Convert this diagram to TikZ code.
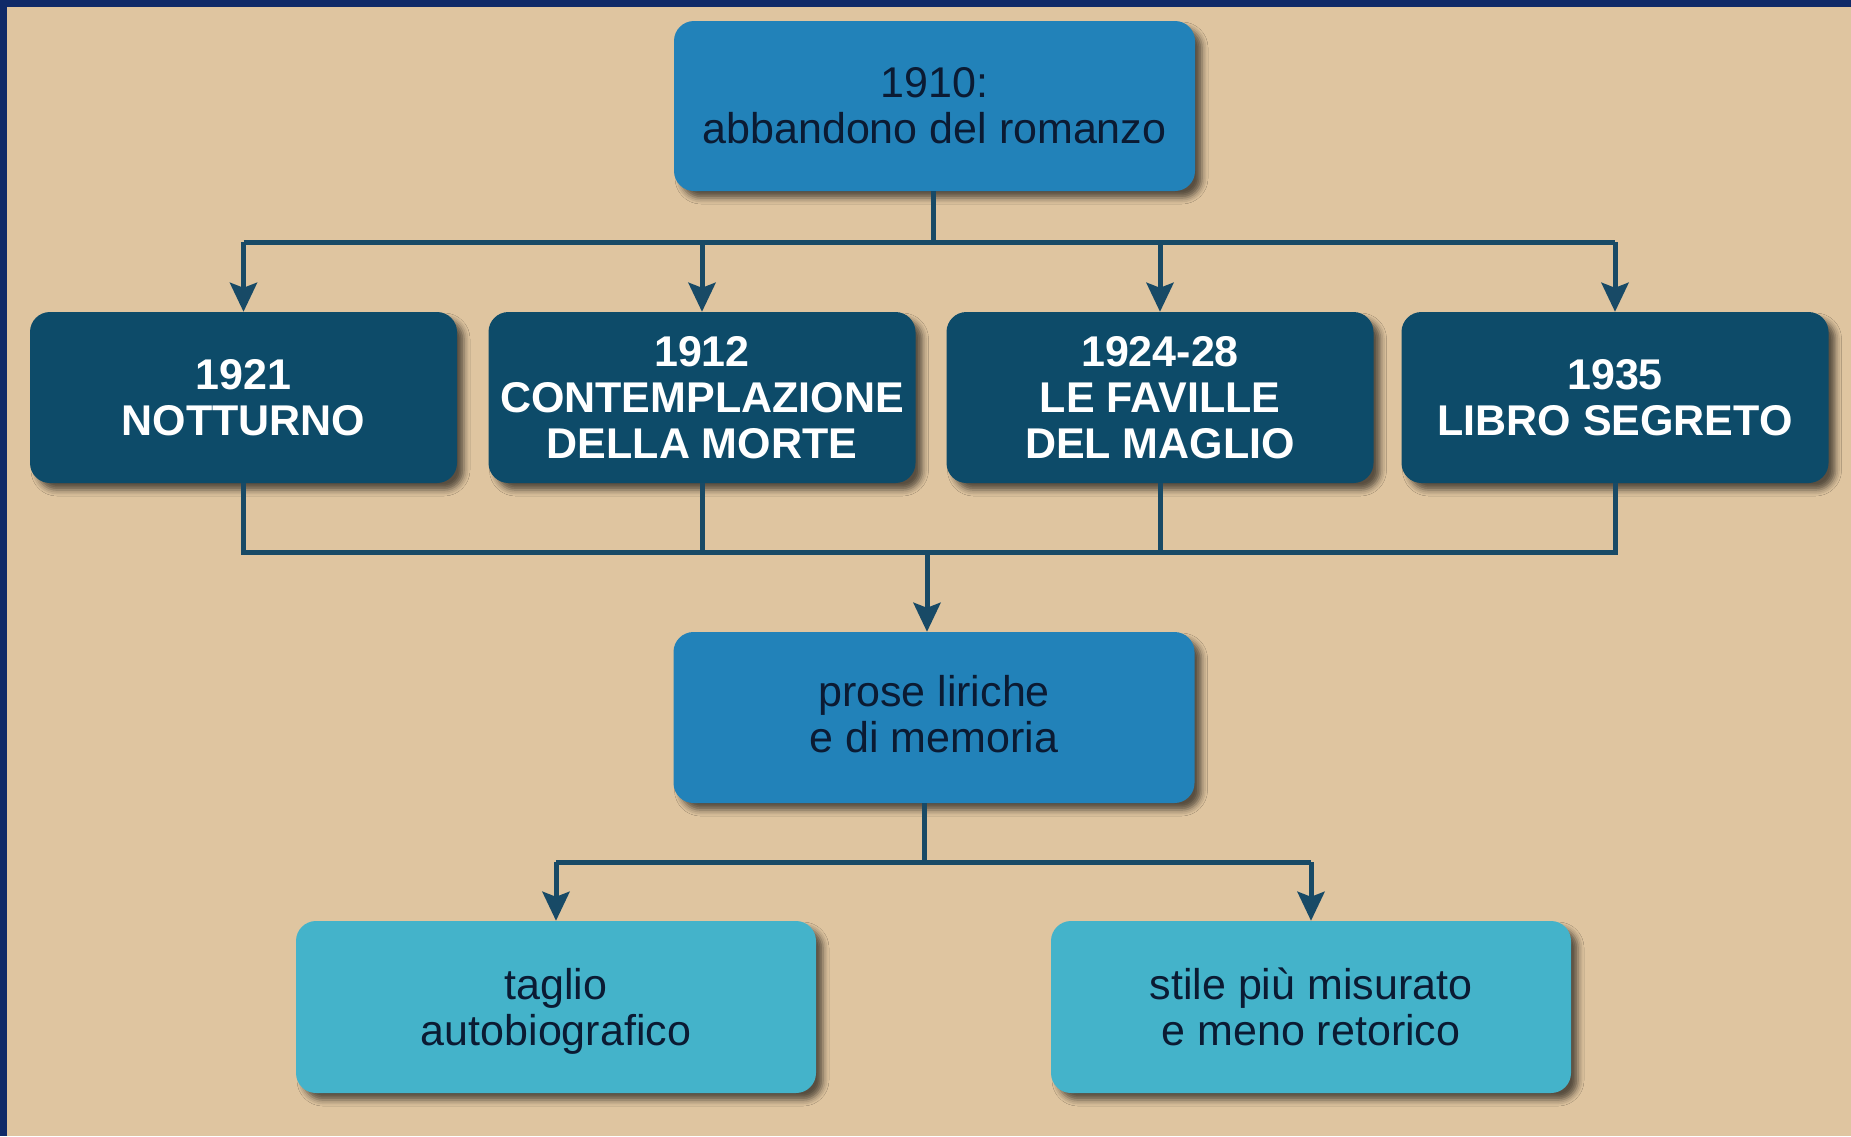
\documentclass[tikz,border=0pt]{standalone}
\usepackage{fontspec}
\setmainfont{Liberation Sans}
\usetikzlibrary{arrows.meta,shadows.blur}
\definecolor{bgbeige}{HTML}{DFC5A0}
\definecolor{navy}{HTML}{102A68}
\definecolor{topblue}{HTML}{2282B9}
\definecolor{darkteal}{HTML}{0D4B69}
\definecolor{lightblue}{HTML}{44B3CA}
\definecolor{linecol}{HTML}{184A66}
\definecolor{txtdark}{HTML}{0B1B33}
\tikzset{
  boxbase/.style={rounded corners=20pt, inner sep=0pt, align=center,
    font=\fontsize{43}{46}\selectfont,
    blur shadow={shadow xshift=7pt, shadow yshift=-7pt, shadow blur radius=6pt, shadow opacity=60}},
  bluebox/.style={boxbase, fill=topblue, text=txtdark, minimum width=521pt, minimum height=170pt},
  darkbox/.style={boxbase, fill=darkteal, text=white, font=\fontsize{43}{46}\selectfont\bfseries, minimum width=427pt, minimum height=171pt},
  lightbox/.style={boxbase, fill=lightblue, text=txtdark, minimum width=520pt, minimum height=172pt},
  conn/.style={draw=linecol, line width=5pt, line join=miter},
  arr/.style={conn, -{Stealth[length=29pt,width=27pt,inset=5pt]}}
}
\begin{document}
\begin{tikzpicture}[x=1pt,y=-1pt]
\useasboundingbox (0,0) rectangle (1851,1136);
\fill[bgbeige] (0,0) rectangle (1851,1136);
\fill[navy] (0,0) rectangle (1851,7);
\fill[navy] (0,0) rectangle (7,1136);

% nodes
\node[bluebox] (top) at (934.5,106) {1910:\\abbandono del romanzo};
\node[darkbox] (b1) at (243.5,397.5) {1921\\NOTTURNO};
\node[darkbox] (b2) at (702,397.5) {1912\\CONTEMPLAZIONE\\DELLA MORTE};
\node[darkbox] (b3) at (1160,397.5) {1924-28\\LE FAVILLE\\DEL MAGLIO};
\node[darkbox] (b4) at (1615,397.5) {1935\\LIBRO SEGRETO};
\node[bluebox, minimum height=171pt] (mid) at (934,717.5) {prose liriche\\e di memoria\rule[-7pt]{0pt}{0pt}};
\node[lightbox] (l1) at (556,1007) {taglio\\\raisebox{0pt}[\height][0pt]{autobiografico}};
\node[lightbox] (l2) at (1311,1007) {stile più misurato\\e meno retorico};

% junction coordinates
\coordinate (j1) at (933,242);
\coordinate (j2) at (927,552);
\coordinate (j3) at (924,862);

% top fan-out
\draw[conn] (top.south -| j1) -- (j1);
\draw[conn] (b1.north |- j1) -- (b4.north |- j1);
\draw[arr] (b1.north |- j1) -- (b1.north);
\draw[arr] (b2.north |- j1) -- (b2.north);
\draw[arr] (b3.north |- j1) -- (b3.north);
\draw[arr] (b4.north |- j1) -- (b4.north);

% fan-in
\draw[conn] (b1.south) -- (b1.south |- j2) -- (b4.south |- j2) -- (b4.south);
\draw[conn] (b2.south) -- (b2.south |- j2);
\draw[conn] (b3.south) -- (b3.south |- j2);
\draw[arr] (j2) -- (j2 |- mid.north);

% bottom fan-out
\draw[conn] (mid.south -| j3) -- (j3);
\draw[conn] (l1.north |- j3) -- (l2.north |- j3);
\draw[arr] (l1.north |- j3) -- (l1.north);
\draw[arr] (l2.north |- j3) -- (l2.north);
\end{tikzpicture}
\end{document}
